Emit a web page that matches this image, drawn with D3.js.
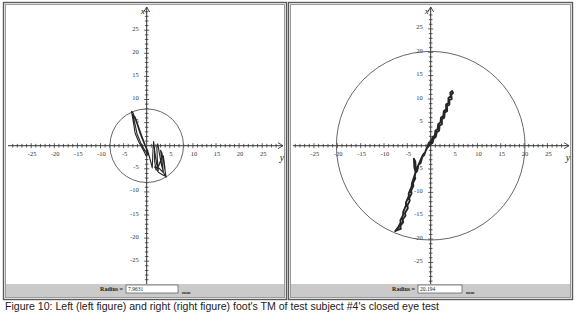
<!DOCTYPE html>
<html>
<head>
<meta charset="utf-8">
<script src="https://cdn.jsdelivr.net/npm/d3@7"></script>
<style>
  body { margin: 0; background: #fff; }
  svg { display: block; }
</style>
</head>
<body>
<div id="chart"></div>
<script>
// tick labels on both axes
const tickLabels = [-25, -20, -15, -10, -5, 5, 10, 15, 20, 25];

// radius of the sway circle (mm)
const radii = [7.9631, 20.194];
const radiusText = ["7.9631", "20.194"];

// left foot trace, [y (horizontal), x (vertical)] in mm
const leftTrace = [
  [0.0, -2.4], [-0.8, -0.8], [-1.7, 0.8], [-2.5, 2.7], [-2.9, 5.2], [-3.3, 7.4],
  [-3.0, 7.2], [-2.2, 5.0], [-1.45, 2.7], [-0.7, 0.8], [-0.1, -0.6], [0.3, -2.0],
  [-0.3, -1.2], [-1.2, 0.4], [-2.1, 2.6], [-2.6, 5.0], [-3.0, 6.8], [-2.5, 6.2],
  [-1.8, 4.2], [-1.1, 2.2], [-0.4, 0.4], [0.3, -1.4], [0.8, -3.2], [1.2, -4.8],
  [1.3, -2.4], [1.4, -0.2], [1.5, 0.9], [1.8, -1.6], [2.2, -4.2], [2.5, -5.4],
  [2.3, -2.8], [2.2, -0.4], [2.4, 0.4], [2.8, -2.0], [3.2, -4.2], [3.6, -5.6],
  [3.3, -3.2], [3.0, -1.0], [3.3, -1.6], [3.8, -4.4], [4.2, -6.8], [3.6, -5.8],
  [2.6, -4.8], [1.7, -4.6], [2.6, -5.8], [3.6, -6.4], [4.1, -6.6], [3.9, -4.4],
  [3.6, -2.2], [3.2, -2.6], [2.6, -4.4], [2.0, -5.2], [1.7, -3.2], [1.7, -0.4]
];

// right foot trace, [y (horizontal), x (vertical)] in mm
const rightTrace = [
  [-1.0, -1.0], [-0.4, 0.6], [0.1, 0.9], [0.4, 1.8], [0.9, 2.2], [1.0, 3.2],
  [1.5, 3.6], [1.6, 4.6], [2.1, 5.0], [2.2, 6.0], [2.7, 6.4], [2.8, 7.4],
  [3.3, 7.8], [3.3, 8.8], [3.8, 9.2], [3.8, 10.2], [4.3, 10.6], [4.2, 11.4],
  [4.6, 11.7], [4.8, 11.3], [4.4, 10.9], [4.5, 10.0], [4.0, 9.8], [4.0, 8.8],
  [3.5, 8.5], [3.5, 7.4], [3.0, 7.1], [2.9, 6.0], [2.4, 5.7], [2.4, 4.6],
  [1.9, 4.3], [1.8, 3.2], [1.3, 2.9], [1.1, 1.9], [0.6, 1.5], [0.4, 0.6],
  [-0.2, 0.2], [-0.9, -0.6], [-1.4, -2.0], [-1.8, -2.4], [-2.2, -3.8], [-2.6, -4.0],
  [-2.9, -5.4], [-3.2, -5.8], [-3.5, -4.6], [-3.6, -2.8], [-3.3, -3.4], [-3.2, -5.0],
  [-3.4, -6.6], [-3.3, -7.0], [-3.8, -8.0], [-3.7, -8.6], [-4.2, -9.6], [-4.1, -10.2],
  [-4.6, -11.2], [-4.5, -11.8], [-5.0, -12.8], [-4.9, -13.4], [-5.5, -14.4], [-5.4, -15.0],
  [-6.0, -15.8], [-5.9, -16.4], [-6.5, -17.2], [-6.4, -17.8], [-7.0, -18.0], [-7.6, -18.3],
  [-6.9, -17.4], [-6.4, -16.4], [-6.5, -16.0], [-5.9, -14.8], [-5.9, -14.2], [-5.3, -12.8],
  [-5.3, -12.2], [-4.7, -10.8], [-4.7, -10.2], [-4.1, -8.8], [-4.0, -8.0], [-3.6, -6.8],
  [-3.0, -5.0], [-2.4, -3.6], [-1.7, -2.0], [-1.2, -1.4]
];

const traces = [leftTrace, rightTrace];

const W = 580, H = 323;
const svg = d3.select("#chart").append("svg")
  .attr("width", W)
  .attr("height", H);

// panel frames and axis origins
const panels = [
  { x0: 3, x1: 286, cx: 146.7, cy: 145.7, k: 4.62, box: [126, 178], lw: 1.1 },
  { x0: 288, x1: 572, cx: 430.7, cy: 145.7, k: 4.67, box: [418, 462], lw: 1.9 }
];
const panelTop = 2, panelBottom = 299, barTop = 284;

panels.forEach((p, i) => {
  const g = svg.append("g");

  // frame
  g.append("rect")
    .attr("x", p.x0 + 0.5).attr("y", panelTop + 0.5)
    .attr("width", p.x1 - p.x0).attr("height", panelBottom - panelTop)
    .attr("fill", "#fff")
    .attr("stroke", "#5a5a5a").attr("stroke-width", 1.4);
  g.append("rect")
    .attr("x", p.x0 + 2.5).attr("y", panelTop + 2.5)
    .attr("width", p.x1 - p.x0 - 4).attr("height", panelBottom - panelTop - 4)
    .attr("fill", "none")
    .attr("stroke", "#9a9a9a").attr("stroke-width", 1);

  // grey status bar
  g.append("rect")
    .attr("x", p.x0 + 3).attr("y", barTop)
    .attr("width", p.x1 - p.x0 - 5).attr("height", panelBottom - barTop - 2)
    .attr("fill", "#cacaca");

  const x = d3.scaleLinear().domain([-30, 30]).range([p.cx - 30 * p.k, p.cx + 30 * p.k]);
  const y = d3.scaleLinear().domain([-30, 30]).range([p.cy + 30 * p.k, p.cy - 30 * p.k]);

  const left = p.x0 + 5, right = p.x1 - 3;
  const top = 7;
  const hMinor = d3.range(-29, 30).filter(v => x(v) > left + 1 && x(v) < right - 3 && v !== 0);
  const vMinor = d3.range(-29, 30).filter(v => y(v) > top + 4 && y(v) < barTop - 1 && v !== 0);

  // horizontal axis
  g.append("line")
    .attr("x1", left).attr("x2", right)
    .attr("y1", p.cy).attr("y2", p.cy)
    .attr("stroke", "#333").attr("stroke-width", 1);
  g.append("path")
    .attr("d", `M${right - 5},${p.cy - 3} L${right},${p.cy} L${right - 5},${p.cy + 3}`)
    .attr("fill", "none").attr("stroke", "#333").attr("stroke-width", 0.9);

  g.selectAll(".htick").data(hMinor).enter().append("line")
    .attr("x1", d => x(d)).attr("x2", d => x(d))
    .attr("y1", d => p.cy - (d % 5 === 0 ? 2.5 : 1.8))
    .attr("y2", d => p.cy + (d % 5 === 0 ? 2.5 : 1.8))
    .attr("stroke", "#333").attr("stroke-width", 0.8);

  g.selectAll(".hlab").data(tickLabels).enter().append("text")
    .attr("x", d => x(d) + 1)
    .attr("y", p.cy + 10)
    .attr("text-anchor", "middle")
    .style("font-family", "'Liberation Serif', serif")
    .style("font-size", "6.5px")
    .attr("fill", "#333")
    .text(d => d);

  // vertical axis
  g.append("line")
    .attr("x1", p.cx).attr("x2", p.cx)
    .attr("y1", top).attr("y2", barTop)
    .attr("stroke", "#333").attr("stroke-width", 1);
  g.append("path")
    .attr("d", `M${p.cx - 3},${top + 5} L${p.cx},${top} L${p.cx + 3},${top + 5}`)
    .attr("fill", "none").attr("stroke", "#333").attr("stroke-width", 0.9);

  g.selectAll(".vtick").data(vMinor).enter().append("line")
    .attr("y1", d => y(d)).attr("y2", d => y(d))
    .attr("x1", d => p.cx - (d % 5 === 0 ? 2.5 : 1.8))
    .attr("x2", d => p.cx + (d % 5 === 0 ? 2.5 : 1.8))
    .attr("stroke", "#333").attr("stroke-width", 0.8);

  g.selectAll(".vlab").data(tickLabels).enter().append("text")
    .attr("x", p.cx - 8)
    .attr("y", d => y(d) + 0.5)
    .attr("text-anchor", "end")
    .style("font-family", "'Liberation Serif', serif")
    .style("font-size", "6.5px")
    .attr("fill", "#333")
    .text(d => d);

  // axis names
  g.append("text")
    .attr("x", p.cx - 2).attr("y", 14)
    .attr("text-anchor", "end")
    .style("font-family", "'Liberation Serif', serif")
    .style("font-style", "italic")
    .style("font-size", "9px")
    .attr("fill", "#222")
    .text("x");
  g.append("text")
    .attr("x", right - 1).attr("y", p.cy + 15)
    .attr("text-anchor", "middle")
    .style("font-family", "'Liberation Serif', serif")
    .style("font-style", "italic")
    .style("font-size", "10px")
    .attr("fill", "#222")
    .text("y");

  // sway circle
  g.append("circle")
    .attr("cx", x(0)).attr("cy", y(0))
    .attr("r", x(radii[i]) - x(0))
    .attr("fill", "none")
    .attr("stroke", "#555").attr("stroke-width", 0.9);

  // centre of pressure trace
  const line = d3.line()
    .x(d => x(d[0]))
    .y(d => y(d[1]));
  g.append("path")
    .datum(traces[i])
    .attr("d", line)
    .attr("fill", "none")
    .attr("stroke", "#262626")
    .attr("stroke-width", p.lw)
    .attr("stroke-linejoin", "round");

  // radius readout
  g.append("text")
    .attr("x", p.box[0] - 3).attr("y", 291)
    .attr("text-anchor", "end")
    .style("font-family", "'Liberation Serif', serif")
    .style("font-weight", "bold")
    .style("font-size", "6px")
    .attr("fill", "#222")
    .text("Radius =");
  g.append("rect")
    .attr("x", p.box[0]).attr("y", 285)
    .attr("width", p.box[1] - p.box[0]).attr("height", 8)
    .attr("fill", "#fff")
    .attr("stroke", "#555").attr("stroke-width", 0.7);
  g.append("text")
    .attr("x", p.box[0] + 2).attr("y", 291)
    .style("font-family", "'Liberation Serif', serif")
    .style("font-size", "5.5px")
    .attr("fill", "#222")
    .text(radiusText[i]);
  g.append("text")
    .attr("x", p.box[1] + 4).attr("y", 294)
    .style("font-family", "'Liberation Serif', serif")
    .style("font-weight", "bold")
    .style("font-size", "5px")
    .attr("fill", "#333")
    .text("mm");
});

// caption
svg.append("text")
  .attr("x", 5).attr("y", 310)
  .style("font-family", "'Liberation Sans', Arial, sans-serif")
  .style("font-size", "10px")
  .attr("fill", "#222")
  .attr("textLength", 434)
  .attr("lengthAdjust", "spacingAndGlyphs")
  .text("Figure 10: Left (left figure) and right (right figure) foot's TM of test subject #4's closed eye test");
</script>
</body>
</html>
